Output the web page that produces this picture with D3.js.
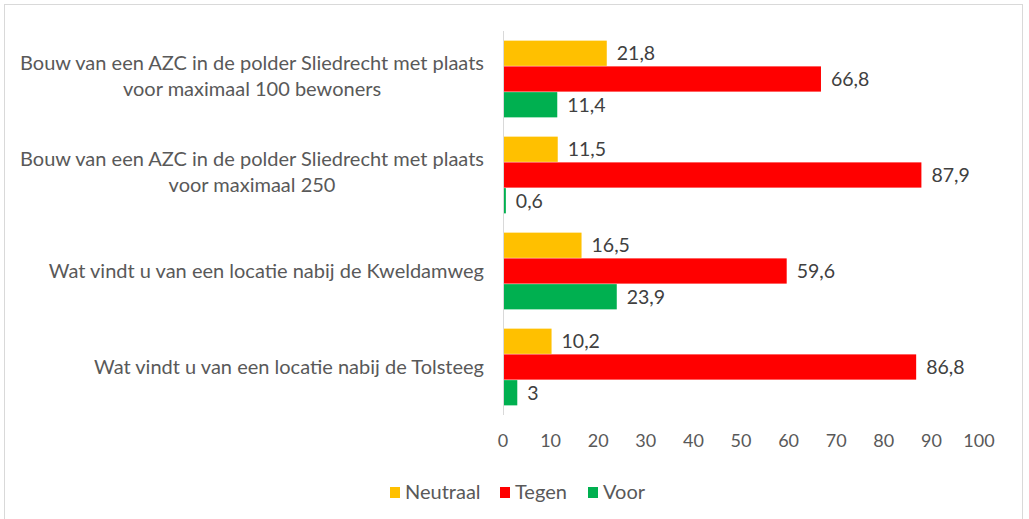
<!DOCTYPE html>
<html>
<head>
<meta charset="utf-8">
<script src="https://cdn.jsdelivr.net/npm/d3@7"></script>
<style>
  body { margin: 0; background: #fff; }
  svg { display: block; font-family: Lato, "Open Sans", sans-serif; }
  .cat-label { fill: #595959; font-size: 20px; }
  .value-label { fill: #404040; font-size: 19.5px; }
  .tick-label { fill: #595959; font-size: 18px; }
  .legend-label { fill: #595959; font-size: 20px; }
</style>
</head>
<body>
<svg id="chart" width="1029" height="519"></svg>
<script>
"use strict";

const categories = [
  ["Bouw van een AZC in de polder Sliedrecht met plaats", "voor maximaal 100 bewoners"],
  ["Bouw van een AZC in de polder Sliedrecht met plaats", "voor maximaal 250"],
  ["Wat vindt u van een locatie nabij de Kweldamweg"],
  ["Wat vindt u van een locatie nabij de Tolsteeg"],
];
const seriesNames = ["Neutraal", "Tegen", "Voor"];
const seriesColors = ["#FFC000", "#FF0000", "#00B050"];
const neutraal = [21.8, 11.5, 16.5, 10.2];
const tegen = [66.8, 87.9, 59.6, 86.8];
const voor = [11.4, 0.6, 23.9, 3];
const xTicks = [0, 10, 20, 30, 40, 50, 60, 70, 80, 90, 100];

const margins = {top: 31, right: 50, bottom: 104, left: 503};
const fullWidth = 1029, fullHeight = 519;
const height = fullHeight - margins.top - margins.bottom;

const fmt = v => String(v).replace(".", ",");

const svg = d3.select("#chart");

// outer border of the chart area
svg.append("rect")
   .attr("x", 4.5).attr("y", 4.5)
   .attr("width", 1018).attr("height", 530)
   .attr("fill", "none")
   .attr("stroke", "#d9d9d9");

const g = svg.append("g")
             .attr("transform", `translate(${margins.left}, ${margins.top})`);

const xScale = d3.scaleLinear().domain([0, 100]).range([0, 476]);
const yScale = d3.scaleBand()
                 .domain(d3.range(categories.length))
                 .range([0, height])
                 .paddingInner(0.19)
                 .paddingOuter(0.095);
const innerScale = d3.scaleBand()
                     .domain(d3.range(seriesNames.length))
                     .range([0, yScale.bandwidth()])
                     .padding(0.02);

const rows = categories.map((c, i) => ({
  i,
  values: [neutraal[i], tegen[i], voor[i]],
}));

// bars
const groups = g.selectAll("g.group")
                .data(rows)
                .join("g")
                .attr("class", "group")
                .attr("transform", d => `translate(0, ${yScale(d.i)})`);

groups.selectAll("rect")
      .data(d => d.values)
      .join("rect")
      .attr("x", 0)
      .attr("y", (v, j) => innerScale(j))
      .attr("width", v => xScale(v))
      .attr("height", innerScale.bandwidth())
      .attr("fill", (v, j) => seriesColors[j]);

groups.selectAll("text.value-label")
      .data(d => d.values)
      .join("text")
      .attr("class", "value-label")
      .attr("x", v => xScale(v) + 10)
      .attr("y", (v, j) => innerScale(j) + innerScale.bandwidth() / 2)
      .attr("dy", "0.35em")
      .text(v => fmt(v));

// vertical axis line
g.append("line")
 .attr("x1", 0.5).attr("x2", 0.5)
 .attr("y1", 0).attr("y2", height)
 .attr("stroke", "#d9d9d9");

// x tick labels
g.selectAll("text.tick-label")
 .data(xTicks)
 .join("text")
 .attr("class", "tick-label")
 .attr("x", t => xScale(t))
 .attr("y", height + 26)
 .attr("text-anchor", "middle")
 .attr("dy", "0.35em")
 .text(t => t);

// category labels: block right-aligned, lines centred within it
const labelRight = 484 - margins.left;
categories.forEach((lines, i) => {
  const t = g.append("text")
             .attr("class", "cat-label")
             .attr("text-anchor", "middle");
  const lh = 26;
  const cy = yScale(i) + yScale.bandwidth() / 2 - (lines.length > 1 ? 3 : 0);
  lines.forEach((line, k) => {
    t.append("tspan")
     .attr("y", cy + (k - (lines.length - 1) / 2) * lh)
     .attr("dy", "0.35em")
     .text(line);
  });
  const w = d3.max(t.selectAll("tspan").nodes(), n => n.getComputedTextLength());
  t.selectAll("tspan").attr("x", labelRight - w / 2);
});

// legend
const legend = svg.append("g").attr("transform", "translate(0, 492)");
const legendX = [390, 500, 588];
seriesNames.forEach((name, j) => {
  legend.append("rect")
        .attr("x", legendX[j]).attr("y", -5)
        .attr("width", 10).attr("height", 11)
        .attr("fill", seriesColors[j]);
  legend.append("text")
        .attr("class", "legend-label")
        .attr("x", legendX[j] + 15)
        .attr("dy", "0.35em")
        .text(name);
});
</script>
</body>
</html>
